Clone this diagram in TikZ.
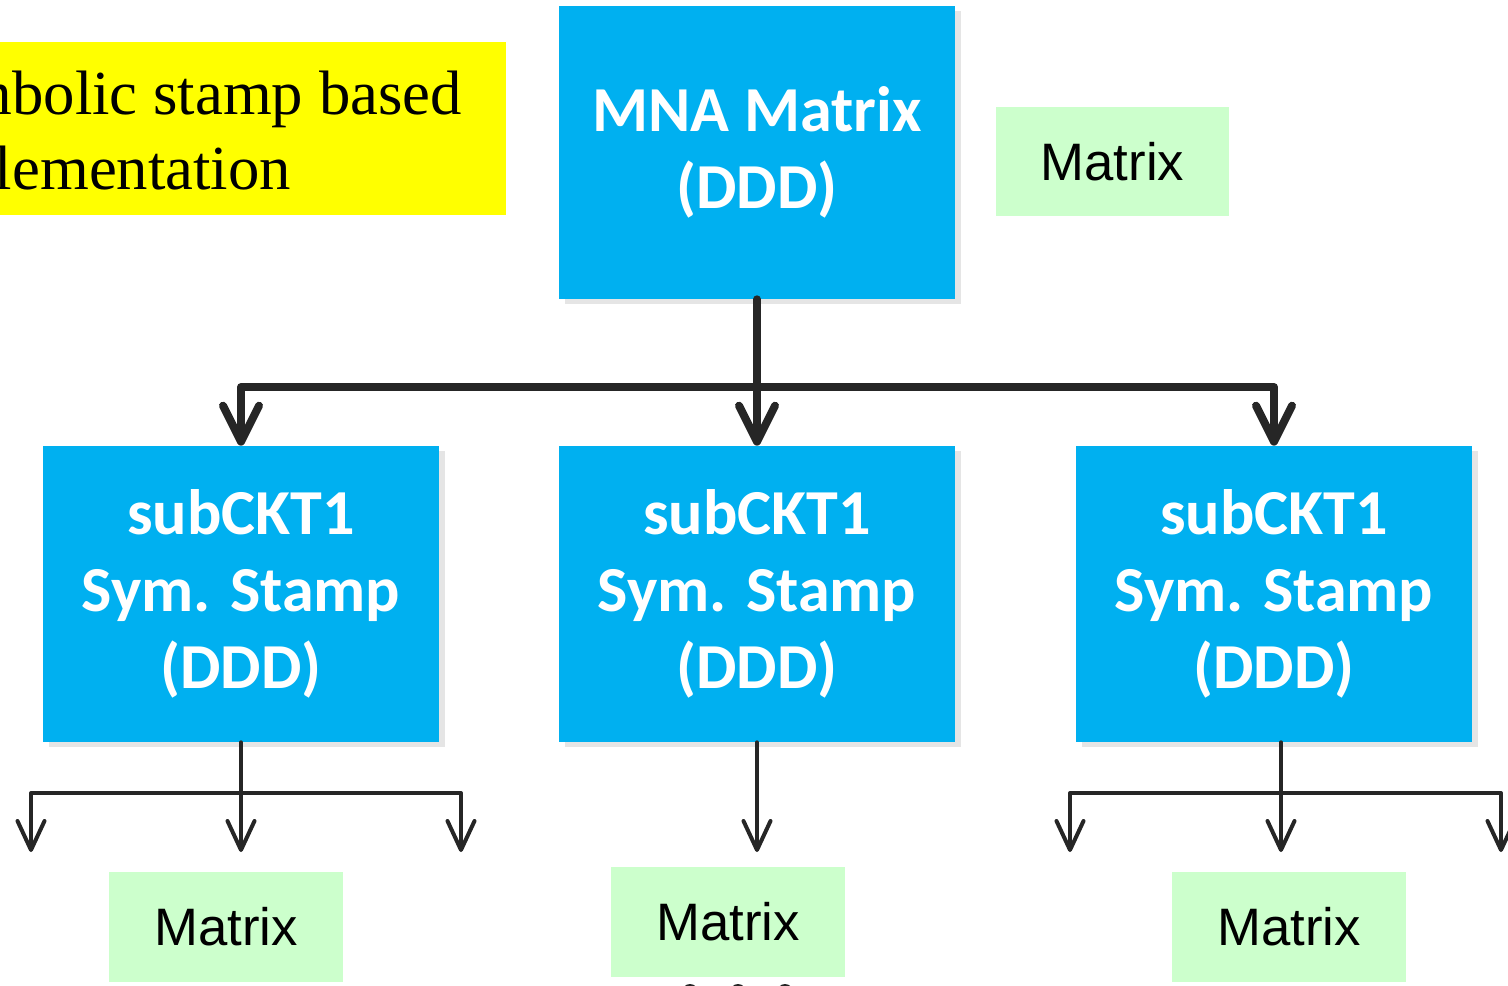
\documentclass[tikz,border=0pt]{standalone}
\usepackage{fontspec}
\setmainfont{Liberation Serif}
\newfontfamily\calibrifont{Carlito}
\newfontfamily\arialfont{Liberation Sans}
\usepackage{xcolor}
\usepackage{tikz}
\usetikzlibrary{shapes,arrows.meta,positioning,calc,shadows}
\definecolor{stampblue}{RGB}{0, 176, 240}
\definecolor{matrixgreen}{RGB}{204, 255, 204}
\definecolor{notecolor}{RGB}{255, 255, 0}
\definecolor{linecolor}{RGB}{38, 38, 38}

\begin{document}
\begin{tikzpicture}[
    x=0.02cm, y=-0.02cm,
    stampbox/.style={rectangle, fill=stampblue, minimum width=7.92cm, minimum height=5.92cm, align=center, text=white,
        font=\calibrifont\bfseries\fontsize{36.5}{44}\selectfont, inner sep=0pt,
        drop shadow={shadow xshift=0.12cm, shadow yshift=-0.1cm, fill=black!10, opacity=1}},
    matrixbox/.style={rectangle, fill=matrixgreen, minimum width=4.68cm, minimum height=2.2cm, inner sep=0pt,
        font=\arialfont\fontsize{30}{36}\selectfont},
    noteback/.style={rectangle, fill=notecolor, minimum width=12.78cm, minimum height=3.46cm, inner sep=0pt},
    notetext/.style={inner sep=0pt, align=left, font=\fontsize{35.7}{42.7}\selectfont},
    thickarrow/.style={-{Straight Barb[length=0.72cm, width=0.72cm, round]}, draw=linecolor, line width=0.16cm, line cap=round, line join=round},
    thinarrow/.style={-{Straight Barb[length=0.58cm, width=0.54cm, round]}, draw=linecolor, line width=0.08cm, line cap=round, line join=round}
]
\path[use as bounding box, clip] (0,0) rectangle (1508,985);

% Note (cut at the left edge)
\node[noteback] (notebg) at (186.5,128.5) {};
\node[notetext, anchor=west] (note) at (-103,137) {Symbolic stamp based\\implementation};

% Top level
\node[stampbox, minimum height=5.86cm] (mna) at (757,152.5) {MNA Matrix\\(DDD)};
\node[matrixbox] (mat0) at (1112.5,161.5) {Matrix};

% Sub-circuit stamps
\node[stampbox] (sub1) at (241,594) {subCKT1\\Sym. Stamp\\(DDD)};
\node[stampbox] (sub2) at (757,594) {subCKT1\\Sym. Stamp\\(DDD)};
\node[stampbox] (sub3) at (1274,594) {subCKT1\\Sym. Stamp\\(DDD)};

% Matrices below
\node[matrixbox] (mat1) at (226,927) {Matrix};
\node[matrixbox] (mat2) at (728,922) {Matrix};
\node[matrixbox] (mat3) at (1289,927) {Matrix};

% More to come
\fill[linecolor] (690,992) circle (8) (738,992) circle (8) (785,992) circle (8);

% Thick arrows from MNA
\coordinate (split) at (757,387);
\draw[thickarrow] (mna.south) -- (sub2.north);
\draw[thickarrow] (split) -| (sub1.north);
\draw[thickarrow] (split) -| (sub3.north);

% Thin arrows, left
\coordinate (s1) at (241,793);
\coordinate (t1a) at (31,852);
\coordinate (t1b) at (241,852);
\coordinate (t1c) at (461,852);
\draw[thinarrow] (sub1.south) -- (t1b);
\draw[thinarrow] (s1) -| (t1a);
\draw[thinarrow] (s1) -| (t1c);

% Thin arrow, middle
\coordinate (t2) at (757,852);
\draw[thinarrow] (sub2.south) -- (t2);

% Thin arrows, right
\coordinate (s3) at (1281,793);
\coordinate (t3a) at (1070,852);
\coordinate (t3b) at (1281,852);
\coordinate (t3c) at (1501,852);
\draw[thinarrow] (sub3.south -| t3b) -- (t3b);
\draw[thinarrow] (s3) -| (t3a);
\draw[thinarrow] (s3) -| (t3c);

\end{tikzpicture}
\end{document}
